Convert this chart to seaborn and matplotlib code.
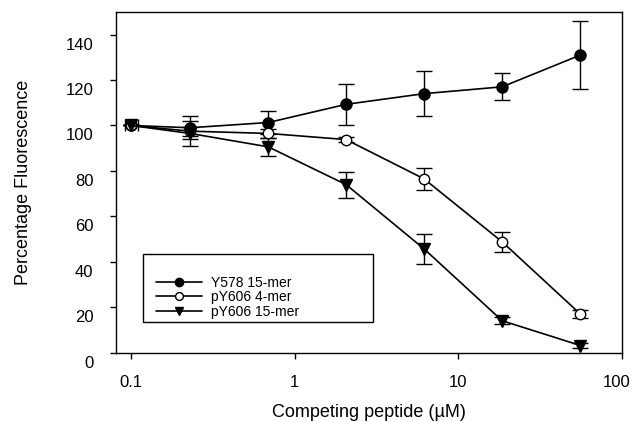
import numpy as np
import pandas as pd
import matplotlib
matplotlib.use("Agg")
import matplotlib.pyplot as plt
import matplotlib.transforms as mtransforms
from matplotlib.patches import Rectangle
import seaborn as sns

# concentrations (uM)
conc = [0.1, 0.23, 0.69, 2.06, 6.17, 18.5, 55.6]

y578_15 = [100, 99, 101.3, 109.3, 114, 117, 131]
y578_15_err = [0, 5, 5, 9, 10, 6, 15]
# small horizontal bar drawn on the first point only
y578_15_xerr_lo = [0.0085, 0, 0, 0, 0, 0, 0]
y578_15_xerr_hi = [0.010, 0, 0, 0, 0, 0, 0]

py606_4 = [100, 97.5, 96.5, 93.8, 76.5, 48.8, 17]
py606_4_err = [0, 2, 2, 1, 5, 4.5, 1.8]

py606_15 = [100, 96.5, 90.6, 74, 45.7, 14.1, 3.2]
py606_15_err = [0, 5.5, 4, 5.7, 6.7, 1.5, 1]

labels = ["Y578 15-mer", "pY606 4-mer", "pY606 15-mer"]


def make_plot():
    sns.set_theme(style="ticks", rc={
        "text.color": "black",
        "axes.labelcolor": "black",
        "xtick.color": "black",
        "ytick.color": "black",
        "axes.edgecolor": "black",
    })
    plt.rcParams["font.family"] = ["Liberation Sans", "DejaVu Sans"]

    fig = plt.figure(figsize=(6.33, 4.22), dpi=100)
    ax = fig.add_axes([0.183, 0.164, 0.8, 0.808])

    series = [
        (y578_15, y578_15_err, "o", "black", 8.0),
        (py606_4, py606_4_err, "o", "white", 7.5),
        (py606_15, py606_15_err, "v", "black", 8.5),
    ]
    for (vals, errs, mk, fc, ms), lab in zip(series, labels):
        df = pd.DataFrame({"conc": conc, "val": vals})
        ax.errorbar(conc, vals, yerr=errs, fmt="none", ecolor="black",
                    elinewidth=1.0, capsize=5.5, capthick=1.0, zorder=2)
        sns.lineplot(data=df, x="conc", y="val", ax=ax, color="black",
                     linewidth=1.2, marker=mk, markersize=ms,
                     markerfacecolor=fc, markeredgecolor="black",
                     markeredgewidth=1.0, label=lab, zorder=3)
    ax.errorbar(conc, y578_15, xerr=[y578_15_xerr_lo, y578_15_xerr_hi],
                fmt="none", ecolor="black", elinewidth=1.0, capsize=4,
                capthick=1.0, zorder=2)

    ax.set_xscale("log")
    ax.set_xlim(0.081, 100)
    ax.set_ylim(0, 150)
    ax.set_xticks([0.1, 1, 10, 100])
    ax.set_xticklabels(["0.1", "1", "10", "100"])
    ax.xaxis.set_minor_locator(matplotlib.ticker.NullLocator())
    ax.set_yticks(np.arange(0, 141, 20))

    for s in ax.spines.values():
        s.set_visible(True)
        s.set_color("black")
        s.set_linewidth(1.0)

    ax.tick_params(axis="both", direction="out", length=4, width=1,
                   colors="black", labelsize=12, pad=12)
    ax.set_xlabel("Competing peptide (\u00b5M)", fontsize=13, labelpad=10,
                  color="black")
    ax.set_ylabel("Percentage Fluorescence", fontsize=13, labelpad=24,
                  color="black")

    # y tick labels sit a little below their ticks in the original
    down = mtransforms.ScaledTranslation(0, -0.09, fig.dpi_scale_trans)
    for t in ax.get_yticklabels():
        t.set_transform(t.get_transform() + down)
    xt = ax.get_xticklabels()
    left = mtransforms.ScaledTranslation(-0.06, 0, fig.dpi_scale_trans)
    xt[-1].set_transform(xt[-1].get_transform() + left)

    leg = ax.legend(loc="center left", bbox_to_anchor=(0.079, 0.163),
                    frameon=False, fontsize=10, handlelength=3.3,
                    handletextpad=0.7, borderpad=0, labelspacing=0.05,
                    borderaxespad=0, markerscale=0.75)
    for t in leg.get_texts():
        t.set_color("black")
    ax.add_patch(Rectangle((0.053, 0.091), 0.454, 0.199, transform=ax.transAxes,
                           fill=False, edgecolor="black", linewidth=1.0,
                           zorder=4))

    fig.savefig("out.png", dpi=100, facecolor="white")
    plt.close(fig)


if __name__ == "__main__":
    make_plot()
